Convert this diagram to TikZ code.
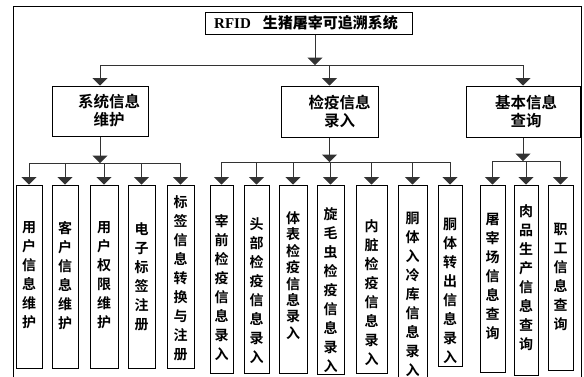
\documentclass[tikz,border=0pt]{standalone}
\usepackage{fontspec}
\setmainfont{Liberation Serif}
\newfontfamily\cjkb{Noto Sans CJK SC Bold}
\usetikzlibrary{arrows.meta,fit}
\begin{document}
\begin{tikzpicture}[x=1pt,y=-1pt,
  box/.style={draw=black, line width=1pt, inner sep=0pt, fill=white},
  conn/.style={draw=black!80, line width=1pt},
  arr/.style={conn, -{Triangle[width=15pt,length=7.5pt]}},
  vtxt/.style={font=\cjkb\fontsize{14}{19}\selectfont, align=center, inner sep=0pt, anchor=north},
  vtxtt/.style={vtxt, font=\cjkb\fontsize{14}{16.4}\selectfont},
  mtxt/.style={font=\cjkb\fontsize{15.5}{18}\selectfont, align=center, inner sep=0pt}]
\useasboundingbox[fill=white] (0,0) rectangle (584,376);
% frame
\draw[black, line width=1pt] (13,377) -- (13,6) -- (581,6) -- (581,377);
% title
\node[box, fit={(205,12) (412,34)}] (title) {};
\node[anchor=west, inner sep=0pt] (titletext) at (214,23) {\fontsize{15}{15}\selectfont\bfseries RFID\hspace{12pt}\cjkb 生猪屠宰可追溯系统};
% level 2
\node[box, fit={(52,86) (148,136)}] (sys) {};
\node[mtxt] (systext) at ([xshift=9pt]sys.center) {系统信息\\维护};
\node[box, fit={(281,86) (378,137)}] (qua) {};
\node[mtxt] (quatext) at ([xshift=10pt]qua.center) {检疫信息\\录入};
\node[box, fit={(466,86) (580,137)}] (bas) {};
\node[mtxt] (bastext) at ([xshift=3pt]bas.center) {基本信息\\查询};
% leaves group 1
\node[box, fit={(16,185) (42,368)}] (a1) {};
\node[box, fit={(52,185) (78,368)}] (a2) {};
\node[box, fit={(90,185) (118,368)}] (a3) {};
\node[box, fit={(128,185) (155,368)}] (a4) {};
\node[box, fit={(167,185) (194,368)}] (a5) {};
\node[vtxt] at ([yshift=-37pt]a1.north) {用\\户\\信\\息\\维\\护};
\node[vtxt] at ([yshift=-37pt]a2.north) {客\\户\\信\\息\\维\\护};
\node[vtxt] at ([yshift=-37pt]a3.north) {用\\户\\权\\限\\维\\护};
\node[vtxt] at ([yshift=-38pt]a4.north) {电\\子\\标\\签\\注\\册};
\node[vtxt] at ([yshift=-11pt]a5.north) {标\\签\\信\\息\\转\\换\\与\\注\\册};
% leaves group 2
\node[box, fit={(210,185) (233,373)}] (b1) {};
\node[box, fit={(244,185) (269,373)}] (b2) {};
\node[box, fit={(279,185) (307,373)}] (b3) {};
\node[box, fit={(317,185) (344,374)}] (b4) {};
\node[box, fit={(356,185) (387,373)}] (b5) {};
\node[box, fit={(398,185) (427,380)}] (b6) {};
\node[box, fit={(438,185) (462,366)}] (b7) {};
\node[vtxt] at ([yshift=-30pt]b1.north) {宰\\前\\检\\疫\\信\\息\\录\\入};
\node[vtxt] at ([yshift=-33pt]b2.north) {头\\部\\检\\疫\\信\\息\\录\\入};
\node[vtxtt] at ([yshift=-27pt]b3.north) {体\\表\\检\\疫\\信\\息\\录\\入};
\node[vtxt] at ([yshift=-23pt]b4.north) {旋\\毛\\虫\\检\\疫\\信\\息\\录\\入};
\node[vtxt] at ([yshift=-35pt]b5.north) {内\\脏\\检\\疫\\信\\息\\录\\入};
\node[vtxt] at ([yshift=-27pt]b6.north) {胴\\体\\入\\冷\\库\\信\\息\\录\\入};
\node[vtxt] at ([yshift=-33pt]b7.north) {胴\\体\\转\\出\\信\\息\\录\\入};
% leaves group 3
\node[box, fit={(480,185) (505,372)}] (c1) {};
\node[box, fit={(514,185) (538,375)}] (c2) {};
\node[box, fit={(548,185) (573,370)}] (c3) {};
\node[vtxt] at ([yshift=-28pt]c1.north) {屠\\宰\\场\\信\\息\\查\\询};
\node[vtxt] at ([yshift=-20pt]c2.north) {肉\\品\\生\\产\\信\\息\\查\\询};
\node[vtxt] at ([yshift=-38pt]c3.north) {职\\工\\信\\息\\查\\询};
% connectors
\coordinate (tb) at (315,65);
\coordinate (g1) at (0,163);
\coordinate (g2) at (0,162);
\coordinate (g3) at (0,161);
\draw[conn] (sys.north |- tb) -- (bas.north |- tb);
\draw[arr] (title.south -| tb) -- (tb);
\foreach \n in {sys,qua,bas} \draw[arr] (\n.north |- tb) -- (\n.north);
\draw[conn] (a1.north |- g1) -- (a5.north |- g1);
\draw[arr] (sys.south) -- (sys.south |- g1);
\foreach \n in {a1,a2,a3,a4,a5} \draw[arr] (\n.north |- g1) -- (\n.north);
\draw[conn] (b1.north |- g2) -- (b7.north |- g2);
\draw[arr] (qua.south) -- (qua.south |- g2);
\foreach \n in {b1,b2,b3,b4,b5,b6,b7} \draw[arr] (\n.north |- g2) -- (\n.north);
\draw[conn] (c1.north |- g3) -- (c3.north |- g3);
\draw[arr] (bas.south) -- (bas.south |- g3);
\foreach \n in {c1,c2,c3} \draw[arr] (\n.north |- g3) -- (\n.north);
\end{tikzpicture}
\end{document}
